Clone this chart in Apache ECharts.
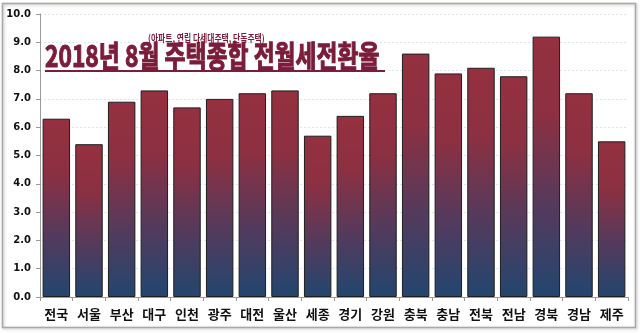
<!DOCTYPE html>
<html>
<head>
<meta charset="utf-8">
<style>
  html, body { margin: 0; padding: 0; background: #ffffff; }
  #chart { width: 640px; height: 333px; }
</style>
<script src="https://cdn.jsdelivr.net/npm/echarts@6/dist/echarts.min.js"></script>
</head>
<body>
<div id="chart"></div>
<script>
// 2018년 8월 지역별 주택종합 전월세전환율 (%)
const regions = ['전국', '서울', '부산', '대구', '인천', '광주', '대전', '울산', '세종',
                 '경기', '강원', '충북', '충남', '전북', '전남', '경북', '경남', '제주'];
const rates = [6.3, 5.4, 6.9, 7.3, 6.7, 7.0, 7.2, 7.3, 5.7,
               6.4, 7.2, 8.6, 7.9, 8.1, 7.8, 9.2, 7.2, 5.5];
const yTicks = { min: 0, max: 10, interval: 1 };

const titleText = '2018년 8월 주택종합 전월세전환율';
const subtitleText = '(아파트, 연립 다세대주택, 단독주택)';

const maroon = '#7a1c3a';
const chart = echarts.init(document.getElementById('chart'), null, { renderer: 'canvas' });

const barFill = new echarts.graphic.LinearGradient(0, 0, 0, 1, [
  { offset: 0, color: '#95303f' },
  { offset: 0.3, color: '#8c3042' },
  { offset: 0.65, color: '#553a5c' },
  { offset: 1, color: '#22466f' }
]);

const titleFont = 'bold 30px "Noto Sans CJK KR"';
const titleScale = 0.76;

chart.setOption({
  backgroundColor: '#ffffff',
  animation: false,
  grid: { left: 40, right: 12, top: 14, bottom: 36, containLabel: false },
  xAxis: {
    type: 'category',
    data: regions,
    axisLine: { show: true, lineStyle: { color: '#9a9a9a', width: 1 } },
    axisTick: { show: true, alignWithLabel: false, length: 4, lineStyle: { color: '#9a9a9a' } },
    axisLabel: {
      color: '#111111',
      fontFamily: 'Noto Sans CJK KR',
      fontWeight: 'bold',
      fontSize: 13,
      margin: 11,
      interval: 0
    }
  },
  yAxis: {
    type: 'value',
    min: yTicks.min,
    max: yTicks.max,
    interval: yTicks.interval,
    axisLine: { show: true, lineStyle: { color: '#9a9a9a', width: 1 } },
    axisTick: { show: true, length: 4, lineStyle: { color: '#9a9a9a' } },
    axisLabel: {
      color: '#111111',
      fontFamily: 'DejaVu Sans',
      fontWeight: 'bold',
      fontSize: 10,
      margin: 9,
      formatter: v => v.toFixed(1)
    },
    splitLine: { show: true, lineStyle: { color: '#dde4ee', type: [2, 2], width: 1 } }
  },
  series: [{
    type: 'bar',
    data: rates,
    barCategoryGap: '16%',
    itemStyle: {
      color: barFill,
      borderColor: '#1e1e1e',
      borderWidth: 1
    }
  }],
  graphic: [
    {
      type: 'rect',
      silent: true,
      z: -10,
      shape: { x: 2.5, y: 3.5, width: 633, height: 324 },
      style: {
        fill: 'rgba(0,0,0,0)',
        stroke: '#a8a8a8',
        lineWidth: 1.5,
        shadowBlur: 3,
        shadowColor: 'rgba(0,0,0,0.25)',
        shadowOffsetX: 1,
        shadowOffsetY: 1
      }
    },
    // white halo behind the title
    {
      type: 'text',
      z: 100,
      x: 45,
      y: 56,
      scaleX: titleScale,
      style: {
        text: titleText,
        fill: '#ffffff',
        font: titleFont,
        textAlign: 'left',
        textVerticalAlign: 'middle',
        stroke: '#ffffff',
        lineWidth: 5,
        shadowBlur: 3,
        shadowColor: 'rgba(0,0,0,0.35)',
        shadowOffsetX: 1,
        shadowOffsetY: 1
      }
    },
    // heavy title face
    {
      type: 'text',
      z: 101,
      x: 45,
      y: 56,
      scaleX: titleScale,
      style: {
        text: titleText,
        fill: maroon,
        font: titleFont,
        textAlign: 'left',
        textVerticalAlign: 'middle',
        stroke: maroon,
        lineWidth: 1.1
      }
    },
    {
      type: 'line',
      z: 101,
      shape: { x1: 45, y1: 71, x2: 385, y2: 71 },
      style: { stroke: maroon, lineWidth: 2 }
    },
    {
      type: 'text',
      z: 101,
      x: 148,
      y: 38,
      scaleX: 0.78,
      style: {
        text: subtitleText,
        fill: maroon,
        font: 'bold 10px "Noto Sans CJK KR"',
        textAlign: 'left',
        textVerticalAlign: 'middle'
      }
    }
  ]
});
</script>
</body>
</html>
